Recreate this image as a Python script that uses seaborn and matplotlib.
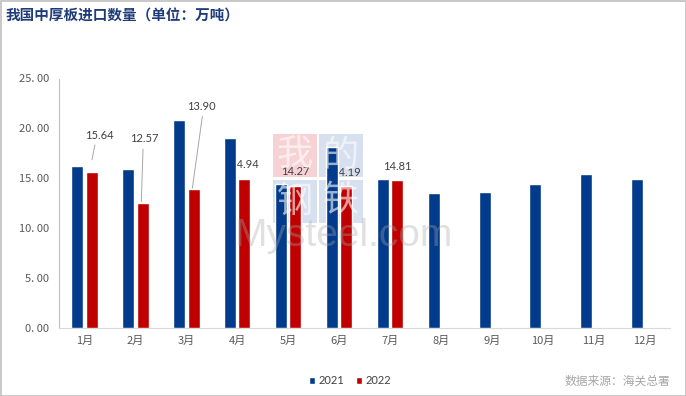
import matplotlib

matplotlib.use("Agg")
import matplotlib.pyplot as plt
import pandas as pd
import seaborn as sns
from matplotlib.patches import Rectangle

months = ["1月", "2月", "3月", "4月", "5月", "6月", "7月", "8月", "9月", "10月", "11月", "12月"]
imports_2021 = [16.2, 15.9, 20.8, 19.0, 14.4, 18.1, 14.9, 13.5, 13.6, 14.4, 15.4, 14.9]
imports_2022 = [15.64, 12.57, 13.90, 14.94, 14.27, 14.19, 14.81]
years = ["2021", "2022"]
yticks = [0, 5, 10, 15, 20, 25]

# label placement for the 2022 bars: (x offset, y position, leader line start/end) for the pulled-out ones
pulled_labels = {
    0: (0.29, 19.25, (0.148, 16.85), (0.205, 18.35)),
    1: (0.17, 18.96, (0.117, 12.67), (0.15, 17.92)),
    2: (0.30, 22.17, (0.119, 14.01), (0.315, 21.19)),
}

BLUE = "#023b8b"
RED = "#c00000"

rows = [(m, "2021", v) for m, v in zip(months, imports_2021)]
rows += [(m, "2022", v) for m, v in zip(months, imports_2022)]
df = pd.DataFrame(rows, columns=["month", "year", "value"])

sns.set_style("white")
plt.rcParams["font.family"] = ["Noto Sans CJK SC", "DejaVu Sans"]

fig = plt.figure(figsize=(6.86, 3.96), dpi=100)
ax = fig.add_axes([59 / 686, 1 - 328 / 396, (670 - 59) / 686, (328 - 78.5) / 396])
ax.patch.set_visible(False)

sns.barplot(
    data=df, x="month", y="value", hue="year", order=months, hue_order=years,
    palette=[BLUE, RED], width=0.57, gap=0.17, saturation=1, ax=ax, zorder=3,
)

ax.set_xlim(-0.5, len(months) - 0.5)
ax.set_ylim(0, 25)
ax.set_yticks(yticks)
ax.set_yticklabels([f"{t:.2f}".replace(".", ". ") for t in yticks], fontsize=8, color="#595959")
ax.set_xticks(range(len(months)))
ax.set_xticklabels(months, fontsize=8, color="#595959")
ax.set_xticks([i + 0.5 for i in range(-1, len(months))], minor=True)
ax.tick_params(axis="x", which="major", length=0, pad=6)
ax.tick_params(axis="x", which="minor", length=4, color="#d9d9d9", width=0.8)
ax.tick_params(axis="y", length=3, color="#bfbfbf", width=0.8, pad=4)
ax.set_xlabel("")
ax.set_ylabel("")
for side in ("top", "right"):
    ax.spines[side].set_visible(False)
ax.spines["bottom"].set_color("#d9d9d9")
ax.spines["left"].set_color("#bfbfbf")
ax.spines["bottom"].set_linewidth(0.8)
ax.spines["left"].set_linewidth(0.8)

# data labels for 2022 (drawn under the bars like the original)
for i, v in enumerate(imports_2022):
    if i in pulled_labels:
        dx, ly, p0, p1 = pulled_labels[i]
        ax.plot([i + p0[0], i + p1[0]], [p0[1], p1[1]], color="#a6a6a6", lw=0.7, zorder=2)
        ax.text(i + dx, ly, f"{v:.2f}", ha="center", va="center", fontsize=8,
                family=["Lato", "DejaVu Sans"], color="#404040", zorder=2)
    else:
        ax.text(i + 0.14, v + 1.4, f"{v:.2f}", ha="center", va="center", fontsize=8,
                family=["Lato", "DejaVu Sans"], color="#404040", zorder=2)

sns.move_legend(
    ax, "center", bbox_to_anchor=(350 / 686, 1 - 381 / 396), bbox_transform=fig.transFigure,
    ncol=2, frameon=False, title=None, fontsize=8, handlelength=0.6, handleheight=0.6,
    handletextpad=0.3, columnspacing=1.0,
)
for t in ax.get_legend().get_texts():
    t.set_color("#404040")
    t.set_family(["Lato", "DejaVu Sans"])

# watermark: boxes behind the chart, glyphs faintly on top
wm = [("我", 273, 134, "#f7d2d4"), ("的", 319, 134, "#d6e0ee"),
      ("钢", 273, 180, "#d6e0ee"), ("铁", 319, 180, "#d6e0ee")]
for ch, x0, y0, c in wm:
    fig.patches.append(Rectangle((x0 / 686, 1 - (y0 + 43) / 396), 44 / 686, 43 / 396,
                                 transform=fig.transFigure, facecolor=c,
                                 edgecolor="none", zorder=-1))
    fig.text((x0 + 22) / 686, 1 - (y0 + 21.5) / 396, ch, ha="center", va="center",
             fontsize=26, color="white", alpha=0.6, zorder=6)
fig.text(344 / 686, 1 - 236 / 396, "Mysteel.com", ha="center", va="center", fontsize=28,
         family=["Liberation Sans Narrow", "Liberation Sans", "DejaVu Sans"],
         color="#a8a8a8", alpha=0.35, zorder=6)

fig.text(6 / 686, 1 - 16 / 396, "我国中厚板进口数量（单位：万吨）", ha="left", va="center",
         fontsize=10.5, fontweight="bold", color="#1f3c7a")
fig.text(670 / 686, 1 - 381 / 396, "数据来源：海关总署", ha="right", va="center",
         fontsize=8.5, color="#a6a6a6")

fig.patches.append(Rectangle((0.5 / 686, 0.5 / 396), 685 / 686, 395 / 396, transform=fig.transFigure,
                             facecolor="none", edgecolor="#bfbfbf", lw=1.2, zorder=10))

fig.savefig("out.png", dpi=100)
